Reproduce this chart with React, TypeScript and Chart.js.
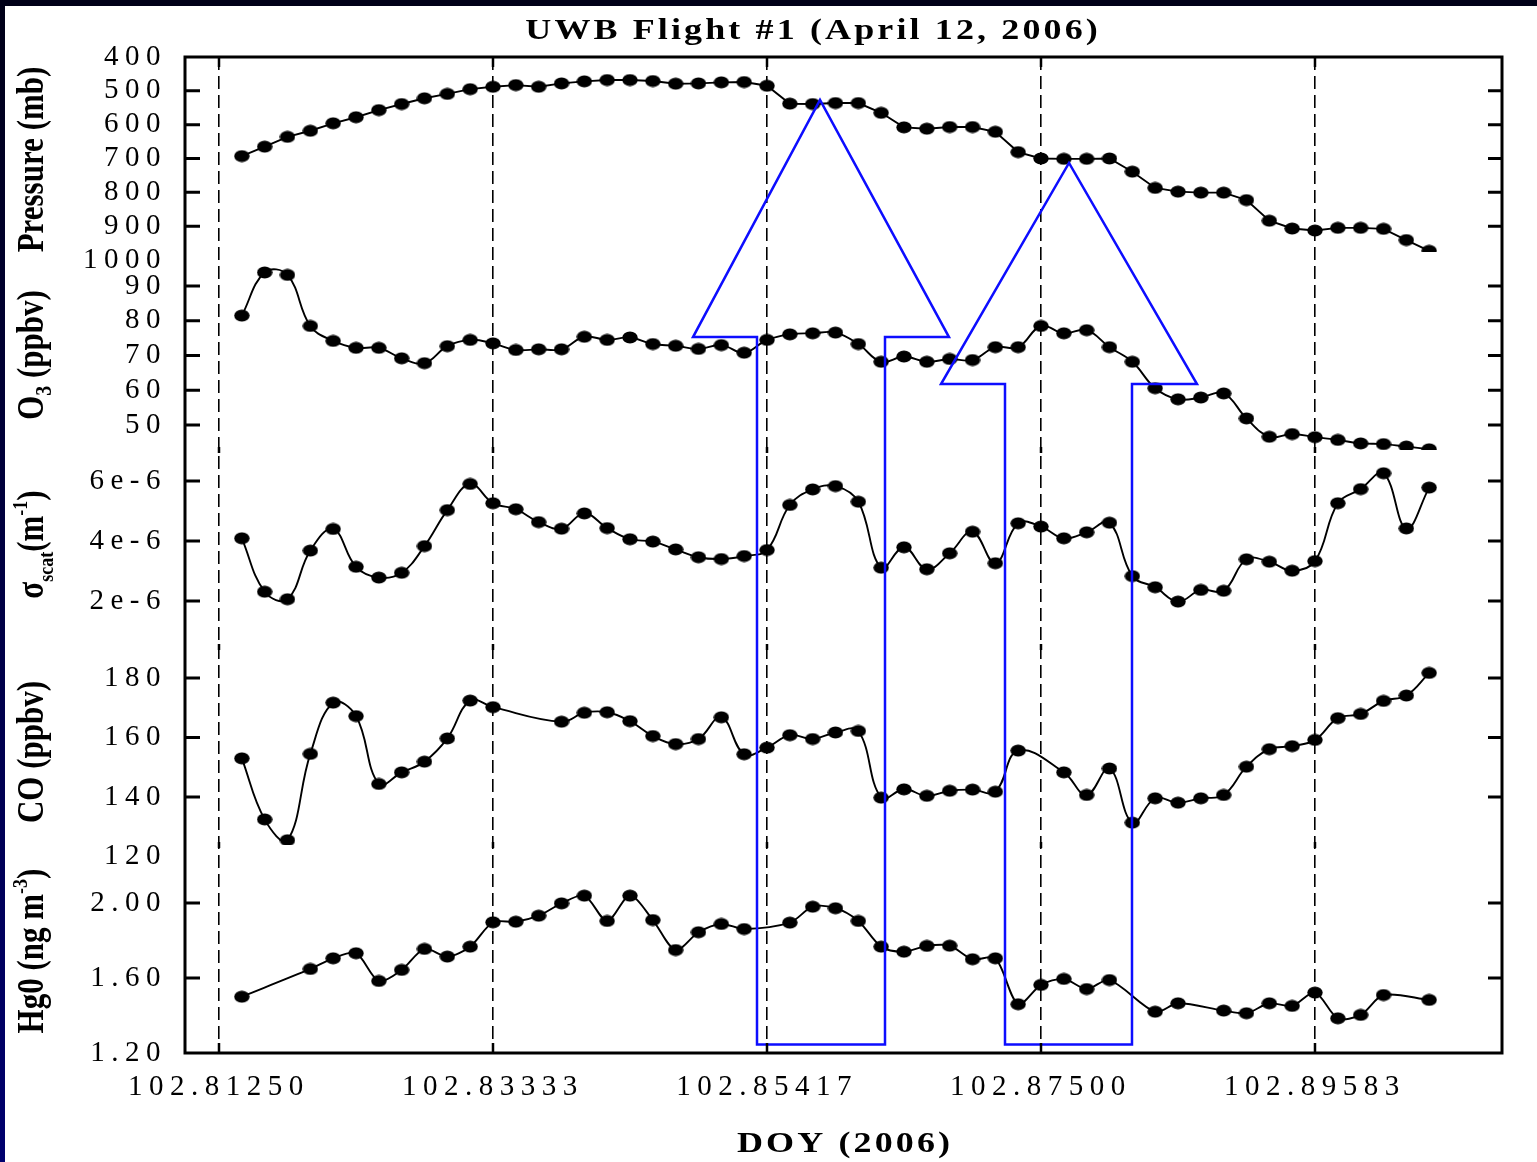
import React, { useEffect, useRef } from 'react';
import { Chart, registerables } from 'chart.js';

Chart.register(...registerables);

// ---------- data ----------
const DOY = [
  102.814236, 102.815972, 102.817708, 102.819444, 102.821181, 102.822917, 102.824653, 102.826389,
  102.828125, 102.829861, 102.831597, 102.833333, 102.835069, 102.836806, 102.838542, 102.840278,
  102.842014, 102.84375, 102.845486, 102.847222, 102.848958, 102.850694, 102.852431, 102.854167,
  102.855903, 102.857639, 102.859375, 102.861111, 102.862847, 102.864583, 102.866319, 102.868056,
  102.869792, 102.871528, 102.873264, 102.875, 102.876736, 102.878472, 102.880208, 102.881944,
  102.883681, 102.885417, 102.887153, 102.888889, 102.890625, 102.892361, 102.894097, 102.895833,
  102.897569, 102.899306, 102.901042, 102.902778, 102.904514,
];

const PRESSURE = [
  693, 665, 636, 618, 596, 578, 557, 539, 522, 509, 495, 488, 483, 488, 478, 472,
  468, 468, 471, 479, 478, 475, 474, 485, 538, 539, 536, 536, 565, 608, 612, 607,
  607, 621, 681, 700, 701, 701, 700, 739, 787, 798, 801, 801, 823, 884, 907, 913,
  905, 905, 908, 941, 973,
];

const OZONE = [
  81.5, 93.9, 93.2, 78.5, 74.2, 72.2, 72.2, 69.2, 67.8, 72.7, 74.5, 73.5, 71.6, 71.8, 71.8, 75.4,
  74.5, 75.2, 73.3, 72.8, 71.9, 73.0, 70.8, 74.5, 76.1, 76.4, 76.6, 73.3, 68.2, 69.7, 68.2, 69.0,
  68.7, 72.4, 72.4, 78.5, 76.4, 77.3, 72.4, 68.2, 60.6, 57.4, 57.9, 59.1, 51.9, 46.6, 47.4, 46.5,
  45.7, 44.7, 44.5, 43.8, 43.0,
];

const SCAT = [
  4.09e-6, 2.31e-6, 2.06e-6, 3.68e-6, 4.40e-6, 3.14e-6, 2.78e-6, 2.94e-6, 3.83e-6, 5.03e-6, 5.90e-6, 5.26e-6,
  5.06e-6, 4.63e-6, 4.41e-6, 4.92e-6, 4.43e-6, 4.06e-6, 3.98e-6, 3.72e-6, 3.46e-6, 3.40e-6, 3.50e-6, 3.70e-6,
  5.20e-6, 5.72e-6, 5.83e-6, 5.31e-6, 3.11e-6, 3.79e-6, 3.06e-6, 3.59e-6, 4.31e-6, 3.26e-6, 4.59e-6, 4.48e-6,
  4.09e-6, 4.29e-6, 4.61e-6, 2.83e-6, 2.46e-6, 1.98e-6, 2.37e-6, 2.34e-6, 3.39e-6, 3.31e-6, 3.01e-6, 3.33e-6,
  5.26e-6, 5.73e-6, 6.26e-6, 4.42e-6, 5.78e-6,
];

const CO = [
  153.0, 132.5, 125.5, 154.5, 171.7, 167.2, 144.4, 148.3, 151.9, 159.7, 172.4, 170.2, null, null, 165.3, 168.3,
  168.5, 165.5, 160.5, 157.8, 159.5, 166.8, 154.4, 156.6, 160.8, 159.5, 161.7, 162.2, 139.8, 142.6, 140.4, 142.1,
  142.5, 141.8, 155.6, null, 148.3, 140.7, 149.6, 131.4, 139.6, 138.1, 139.6, 140.7, 150.2, 156.1, 157.1, 159.2,
  166.5, 167.9, 172.3, 174.1, 181.7,
];

const HG = [
  1.500, null, null, 1.648, 1.705, 1.732, 1.584, 1.643, 1.755, 1.714, 1.767, 1.897, 1.900, 1.932, 1.998, 2.039,
  1.904, 2.039, 1.909, 1.749, 1.844, 1.888, 1.861, null, 1.895, 1.980, 1.972, 1.904, 1.767, 1.740, 1.771, 1.772,
  1.700, 1.705, 1.460, 1.563, 1.595, 1.541, 1.589, null, 1.420, 1.465, null, 1.426, 1.412, 1.465, 1.451, 1.522,
  1.385, 1.403, 1.509, null, 1.483,
];

const X_TICKS = [102.8125, 102.833333, 102.854167, 102.875, 102.895833];
const P_TICKS = [400, 500, 600, 700, 800, 900, 1000];
const O3_TICKS = [50, 60, 70, 80, 90];
const SCAT_TICKS = [2e-6, 4e-6, 6e-6];
const CO_TICKS = [120, 140, 160, 180];
const HG_TICKS = [1.2, 1.6, 2.0];

// two "up" arrows (annotation), in data units
const ARROW_HEAD_LEFT = [102.84854, 102.867397];
const ARROW_SHAFT_LEFT = [102.853407, 102.872263];
const ARROW_TIP = [102.858197, 102.877129];
const ARROW_SHAFT_RIGHT = [102.863139, 102.881919];
const ARROW_HEAD_RIGHT = [102.868005, 102.886861];
const ARROW_TIP_P = [527, 713];
const ARROW_NECK_O3 = [75.3, 61.8];
const ARROW_BASE_HG = [1.245, 1.245];

const FONT = "'Liberation Serif', 'Times New Roman', serif";

type Seg = { text: string; size: number; rise?: number };

function drawCenteredText(ctx: CanvasRenderingContext2D, text: string, cx: number, baseline: number,
  size: number, spacing: number, stretch: number) {
  ctx.save();
  ctx.font = `bold ${size}px ${FONT}`;
  (ctx as any).letterSpacing = `${spacing}px`;
  ctx.textAlign = 'left';
  ctx.textBaseline = 'alphabetic';
  ctx.fillStyle = '#000';
  const w = ctx.measureText(text).width - spacing;
  ctx.translate(cx, baseline);
  ctx.scale(stretch, 1);
  ctx.fillText(text, -w / 2, 0);
  ctx.restore();
}

function drawVerticalRich(ctx: CanvasRenderingContext2D, segs: Seg[], x: number, cy: number, stretch: number) {
  ctx.save();
  (ctx as any).letterSpacing = '0px';
  ctx.fillStyle = '#000';
  ctx.textAlign = 'left';
  ctx.textBaseline = 'alphabetic';
  ctx.translate(x, cy);
  ctx.scale(stretch, 1);
  ctx.rotate(-Math.PI / 2);
  let total = 0;
  const widths = segs.map((s) => {
    ctx.font = `bold ${s.size}px ${FONT}`;
    const w = ctx.measureText(s.text).width;
    total += w;
    return w;
  });
  let pos = -total / 2;
  segs.forEach((s, i) => {
    ctx.font = `bold ${s.size}px ${FONT}`;
    ctx.fillText(s.text, pos, -(s.rise || 0));
    pos += widths[i];
  });
  ctx.restore();
}

const AXIS_TITLES: { id: string; segs: Seg[]; shift: number }[] = [
  { id: 'yP', segs: [{ text: 'Pressure (mb)', size: 31 }], shift: 5 },
  { id: 'yO3', segs: [{ text: 'O', size: 31 }, { text: '3', size: 20, rise: -7 }, { text: ' (ppbv)', size: 31 }], shift: 4 },
  {
    id: 'yS',
    segs: [
      { text: 'σ', size: 31 }, { text: 'scat', size: 18, rise: -8 }, { text: '(m', size: 31 },
      { text: '-1', size: 18, rise: 13 }, { text: ')', size: 31 },
    ],
    shift: -4,
  },
  { id: 'yCO', segs: [{ text: 'CO (ppbv)', size: 31 }], shift: 6 },
  { id: 'yHg', segs: [{ text: 'Hg0 (ng m', size: 31 }, { text: '-3', size: 18, rise: 13 }, { text: ')', size: 31 }], shift: 2 },
];

const TICK_SETS: Record<string, number[]> = {
  yP: P_TICKS, yO3: O3_TICKS, yS: SCAT_TICKS, yCO: CO_TICKS, yHg: HG_TICKS,
};

const decorPlugin = {
  id: 'decor',
  beforeDraw(chart: any) {
    chart.ctx.letterSpacing = '6.5px';
  },
  afterDatasetsDraw(chart: any) {
    const ctx: CanvasRenderingContext2D = chart.ctx;
    const xs = chart.scales.x;
    const yP = chart.scales.yP;
    const yO3 = chart.scales.yO3;
    const yHg = chart.scales.yHg;
    ctx.save();
    ctx.strokeStyle = '#0d0dff';
    ctx.lineWidth = 2.5;
    ctx.lineJoin = 'miter';
    for (let i = 0; i < ARROW_TIP.length; i++) {
      const sl = xs.getPixelForValue(ARROW_SHAFT_LEFT[i]);
      const sr = xs.getPixelForValue(ARROW_SHAFT_RIGHT[i]);
      const hl = xs.getPixelForValue(ARROW_HEAD_LEFT[i]);
      const hr = xs.getPixelForValue(ARROW_HEAD_RIGHT[i]);
      const tx = xs.getPixelForValue(ARROW_TIP[i]);
      const ty = yP.getPixelForValue(ARROW_TIP_P[i]);
      const ny = yO3.getPixelForValue(ARROW_NECK_O3[i]);
      const by = yHg.getPixelForValue(ARROW_BASE_HG[i]);
      ctx.beginPath();
      ctx.moveTo(sl, by);
      ctx.lineTo(sl, ny);
      ctx.lineTo(hl, ny);
      ctx.lineTo(tx, ty);
      ctx.lineTo(hr, ny);
      ctx.lineTo(sr, ny);
      ctx.lineTo(sr, by);
      ctx.closePath();
      ctx.stroke();
    }
    ctx.restore();
  },
  afterDraw(chart: any) {
    const ctx: CanvasRenderingContext2D = chart.ctx;
    const area = chart.chartArea;
    const xs = chart.scales.x;
    ctx.save();
    (ctx as any).letterSpacing = '0px';
    ctx.strokeStyle = '#000';
    // inward y ticks (left and right)
    ctx.lineWidth = 3;
    Object.keys(TICK_SETS).forEach((id) => {
      const sc = chart.scales[id];
      const lo = Math.min(sc.min, sc.max);
      const hi = Math.max(sc.min, sc.max);
      TICK_SETS[id].forEach((v) => {
        if (v <= lo + 1e-12 || v >= hi - 1e-12) return;
        const y = sc.getPixelForValue(v);
        ctx.beginPath();
        ctx.moveTo(area.left, y);
        ctx.lineTo(area.left + 15, y);
        ctx.moveTo(area.right, y);
        ctx.lineTo(area.right - 14, y);
        ctx.stroke();
      });
    });
    // x tick marks at top/bottom and panel joints
    ctx.lineWidth = 2.5;
    const joints = ['yS', 'yCO', 'yHg'].map((id) => chart.scales[id].top);
    X_TICKS.forEach((v) => {
      const x = xs.getPixelForValue(v);
      ctx.beginPath();
      ctx.moveTo(x, area.top);
      ctx.lineTo(x, area.top + 10);
      ctx.moveTo(x, area.bottom);
      ctx.lineTo(x, area.bottom - 10);
      joints.forEach((j) => {
        ctx.moveTo(x, j - 3);
        ctx.lineTo(x, j + 3);
      });
      ctx.stroke();
    });
    // frame
    ctx.lineWidth = 3;
    ctx.strokeRect(area.left, area.top, area.right - area.left, area.bottom - area.top);
    ctx.restore();

    // titles
    const cx = (area.left + area.right) / 2;
    drawCenteredText(ctx, 'UWB Flight #1 (April 12, 2006)', cx - 32, 33, 30, 2.6, 1.2);
    drawCenteredText(ctx, 'DOY (2006)', cx, 1146, 30, 2.6, 1.2);
    AXIS_TITLES.forEach((t) => {
      const sc = chart.scales[t.id];
      drawVerticalRich(ctx, t.segs, 38, (sc.top + sc.bottom) / 2 + t.shift, 1.2);
    });
  },
};

function makeMarker(): HTMLCanvasElement {
  const c = document.createElement('canvas');
  c.width = 16;
  c.height = 13;
  const g = c.getContext('2d')!;
  g.fillStyle = '#000';
  g.beginPath();
  g.ellipse(8, 6.5, 7.7, 5.9, 0, 0, Math.PI * 2);
  g.fill();
  return c;
}

export default function App() {
  const ref = useRef<HTMLCanvasElement | null>(null);

  useEffect(() => {
    if (!ref.current) return;
    const marker = makeMarker();

    const series = [
      { id: 'yP', values: PRESSURE, tension: 0 },
      { id: 'yO3', values: OZONE, tension: 0.4 },
      { id: 'yS', values: SCAT, tension: 0.4 },
      { id: 'yCO', values: CO, tension: 0.4 },
      { id: 'yHg', values: HG, tension: 0.3 },
    ];

    const tickFont = { family: FONT, size: 29 };
    const yAxis = (ticks: number[], min: number, max: number, weight: number, stackWeight: number,
      fmt: (v: number) => string, reverse = false) => ({
      type: 'linear',
      position: 'left',
      stack: 'panels',
      stackWeight,
      weight,
      min,
      max,
      reverse,
      bounds: 'data',
      offset: false,
      grid: { display: false, drawTicks: false },
      border: { display: false },
      ticks: {
        autoSkip: false,
        color: '#000',
        font: tickFont,
        padding: 18,
        callback: (v: any) => fmt(Number(v)),
      },
      afterBuildTicks: (s: any) => {
        s.ticks = ticks.map((v) => ({ value: v }));
      },
      afterFit: (s: any) => {
        s.width = 180;
      },
    });

    const chart = new Chart(ref.current, {
      type: 'line',
      data: {
        datasets: series.map((s) => ({
          data: DOY.map((x, i) => ({ x, y: s.values[i] })),
          xAxisID: 'x',
          yAxisID: s.id,
          borderColor: '#000',
          backgroundColor: '#000',
          borderWidth: 1.9,
          tension: s.tension,
          pointStyle: marker as any,
          pointRadius: 7,
          pointHoverRadius: 7,
          spanGaps: true,
          fill: false,
        })),
      },
      options: {
        responsive: false,
        maintainAspectRatio: false,
        animation: false,
        events: [],
        layout: { padding: { top: 51, right: 35, bottom: 0, left: 0 } },
        plugins: {
          legend: { display: false },
          tooltip: { enabled: false },
          title: { display: false },
        },
        scales: {
          x: {
            type: 'linear',
            position: 'bottom',
            min: 102.809915,
            max: 102.910052,
            bounds: 'data',
            grid: { display: true, drawOnChartArea: true, drawTicks: false, color: '#000', lineWidth: 1.6 },
            border: { display: false, dash: [13, 6] },
            ticks: {
              autoSkip: false,
              maxRotation: 0,
              color: '#000',
              font: tickFont,
              padding: 17,
              callback: (v: any) => Number(v).toFixed(5),
            },
            afterBuildTicks: (s: any) => {
              s.ticks = X_TICKS.map((v) => ({ value: v }));
            },
            afterFit: (s: any) => {
              s.height = 109;
            },
          },
          yP: yAxis(P_TICKS, 400, 976.4, 5, 195, (v) => String(Math.round(v)), true),
          yO3: yAxis(O3_TICKS, 42.8, 99.8, 4, 198, (v) => String(Math.round(v))),
          yS: yAxis(SCAT_TICKS, 0.467e-6, 7.033e-6, 3, 197, (v) => `${Math.round(v * 1e6)}e-6`),
          yCO: yAxis(CO_TICKS, 123.9, 190.4, 2, 198, (v) => String(Math.round(v))),
          yHg: yAxis(HG_TICKS, 1.2, 2.309, 1, 208, (v) => v.toFixed(2)),
        } as any,
      },
      plugins: [decorPlugin as any],
    });

    return () => chart.destroy();
  }, []);

  return (
    <div style={{ position: 'absolute', left: 0, top: 0, width: 1537, height: 1162, background: '#000018', overflow: 'hidden' }}>
      <div style={{ position: 'absolute', left: 0, top: 0, width: 5, height: 1162, background: 'linear-gradient(to bottom, #000018, #00006e)' }} />
      <div style={{ position: 'absolute', left: 5, top: 6, width: 1532, height: 1156, background: '#fff' }}>
        <canvas ref={ref} width={1532} height={1156} style={{ display: 'block', width: 1532, height: 1156 }} />
      </div>
    </div>
  );
}
